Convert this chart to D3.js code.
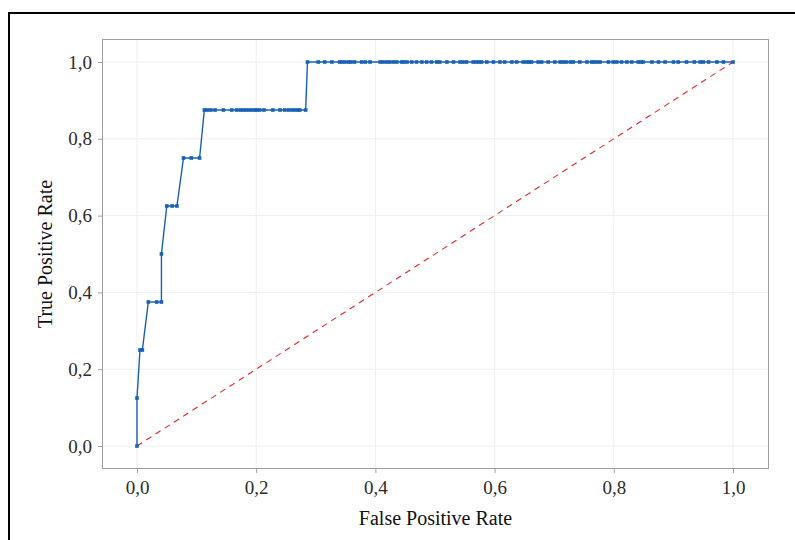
<!DOCTYPE html>
<html>
<head>
<meta charset="utf-8">
<script src="https://cdn.jsdelivr.net/npm/d3@7"></script>
<style>
  html, body { margin: 0; padding: 0; background: #fff; }
  svg { display: block; }
</style>
</head>
<body>
<svg id="chart" width="795" height="540"></svg>
<script>
// ---- Data ----
const tprLevels = [0, 0.125, 0.25, 0.375, 0.5, 0.625, 0.75, 0.875, 1.0];
const fprAtLevel = [
  [0],
  [0],
  [0.005, 0.009],
  [0.019, 0.033, 0.041],
  [0.041],
  [0.050, 0.059, 0.067],
  [0.078, 0.091, 0.105],
  [0.113, 0.118, 0.124, 0.131, 0.145, 0.159, 0.167, 0.173, 0.178, 0.183, 0.188, 0.193,
   0.198, 0.201, 0.206, 0.213, 0.228, 0.240, 0.248, 0.254, 0.260, 0.265, 0.270, 0.273, 0.283],
  [0.286, 0.304, 0.315, 0.327, 0.340, 0.344, 0.349, 0.355, 0.359, 0.365, 0.377, 0.383,
   0.391, 0.408, 0.413, 0.419, 0.424, 0.430, 0.436, 0.444, 0.448, 0.453, 0.461, 0.469,
   0.478, 0.486, 0.494, 0.503, 0.508, 0.520, 0.531, 0.542, 0.547, 0.553, 0.564, 0.569,
   0.574, 0.578, 0.587, 0.598, 0.609, 0.617, 0.629, 0.637, 0.648, 0.654, 0.658, 0.662,
   0.673, 0.679, 0.690, 0.701, 0.710, 0.715, 0.720, 0.727, 0.732, 0.743, 0.755, 0.763,
   0.767, 0.772, 0.777, 0.791, 0.799, 0.805, 0.813, 0.822, 0.830, 0.841, 0.846, 0.849,
   0.864, 0.875, 0.886, 0.900, 0.908, 0.922, 0.935, 0.945, 0.950, 0.959, 0.973, 0.984, 1.0]
];
const diagonal = [[0, 0], [1, 1]];
const xTicks = [0, 0.2, 0.4, 0.6, 0.8, 1.0];
const yTicks = [0, 0.2, 0.4, 0.6, 0.8, 1.0];
const xTitle = "False Positive Rate";
const yTitle = "True Positive Rate";

const roc = [];
fprAtLevel.forEach((arr, i) => arr.forEach(f => roc.push({fpr: f, tpr: tprLevels[i]})));

// ---- Layout ----
const svg = d3.select("#chart");
const panel = {left: 102, top: 39, right: 769, bottom: 469};
const x = d3.scaleLinear().domain([0, 1]).range([137, 733]);
const y = d3.scaleLinear().domain([0, 1]).range([446, 62]);
const fmt = d => d3.format(".1f")(d).replace(".", ",");
const serif = "'Liberation Serif', 'Times New Roman', serif";

// outer black frame
svg.append("rect").attr("x", 9).attr("y", 13).attr("width", 820).attr("height", 560)
  .attr("fill", "none").attr("stroke", "#000").attr("stroke-width", 2);

// panel background
svg.append("rect").attr("x", panel.left).attr("y", panel.top)
  .attr("width", panel.right - panel.left).attr("height", panel.bottom - panel.top)
  .attr("fill", "#fff");

// gridlines
const grid = svg.append("g");
grid.selectAll(".gx").data(xTicks).join("line")
  .attr("x1", d => x(d)).attr("x2", d => x(d))
  .attr("y1", panel.top).attr("y2", panel.bottom)
  .attr("stroke", "#efefef").attr("stroke-width", 1);
grid.selectAll(".gy").data(yTicks).join("line")
  .attr("y1", d => y(d)).attr("y2", d => y(d))
  .attr("x1", panel.left).attr("x2", panel.right)
  .attr("stroke", "#efefef").attr("stroke-width", 1);

// diagonal reference
svg.append("path")
  .attr("d", d3.line().x(d => x(d[0])).y(d => y(d[1]))(diagonal))
  .attr("fill", "none").attr("stroke", "#e8262a").attr("stroke-width", 1.1)
  .attr("stroke-dasharray", "6,5");

// ROC line
svg.append("path")
  .datum(roc)
  .attr("d", d3.line().x(d => x(d.fpr)).y(d => y(d.tpr)))
  .attr("fill", "none").attr("stroke", "#1761b3").attr("stroke-width", 1.4);

// ROC points
svg.append("g").selectAll("rect").data(roc).join("rect")
  .attr("x", d => x(d.fpr) - 1.8).attr("y", d => y(d.tpr) - 1.8)
  .attr("width", 3.6).attr("height", 3.6)
  .attr("fill", "#1761b3");

// panel border
svg.append("rect").attr("x", panel.left + 0.5).attr("y", panel.top + 0.5)
  .attr("width", panel.right - panel.left - 1).attr("height", panel.bottom - panel.top - 1)
  .attr("fill", "none").attr("stroke", "#9e9e9e").attr("stroke-width", 1);

// axes
const xAxis = d3.axisBottom(x).tickValues(xTicks).tickFormat(fmt).tickSize(4).tickPadding(8);
const yAxis = d3.axisLeft(y).tickValues(yTicks).tickFormat(fmt).tickSize(4).tickPadding(6);

const gx = svg.append("g").attr("transform", `translate(0,${panel.bottom})`).call(xAxis);
const gy = svg.append("g").attr("transform", `translate(${panel.left},0)`).call(yAxis);
[gx, gy].forEach(g => {
  g.select(".domain").remove();
  g.selectAll(".tick line").attr("stroke", "#9e9e9e");
  g.selectAll(".tick text").attr("fill", "#2b2b2b")
    .style("font-family", serif).style("font-size", "19px");
});

// axis titles
svg.append("text").attr("x", (panel.left + panel.right) / 2).attr("y", 525)
  .attr("text-anchor", "middle").style("font-family", serif).style("font-size", "20px")
  .attr("fill", "#111").text(xTitle);
svg.append("text")
  .attr("transform", `translate(52,${(panel.top + panel.bottom) / 2}) rotate(-90)`)
  .attr("text-anchor", "middle").style("font-family", serif).style("font-size", "20px")
  .attr("fill", "#111").text(yTitle);
</script>
</body>
</html>
